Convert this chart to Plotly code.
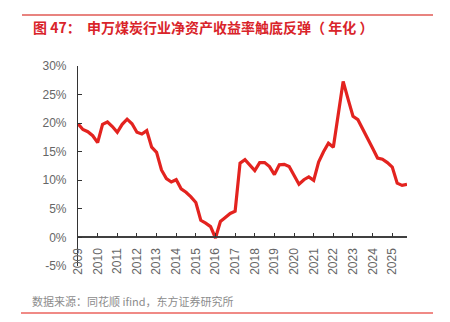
import plotly.graph_objects as go

# Quarterly categories 2009Q1 .. 2025Q4
quarters = [f"{y}Q{q}" for y in range(2009, 2026) for q in range(1, 5)]

# Annualised ROE (%) of SW coal industry
roe = [
    19.9, 18.9, 18.5, 17.8,   # 2009
    16.6, 19.8, 20.2, 19.4,   # 2010
    18.4, 19.8, 20.7, 19.9,   # 2011
    18.4, 18.1, 18.7, 15.8,   # 2012
    14.9, 11.8, 10.3, 9.7,    # 2013
    10.1, 8.5, 7.9, 7.1,      # 2014
    6.1, 3.0, 2.5, 1.9,       # 2015
    -0.1, 2.8, 3.5, 4.2,      # 2016
    4.6, 13.0, 13.6, 12.6,    # 2017
    11.7, 13.1, 13.1, 12.4,   # 2018
    11.0, 12.7, 12.8, 12.4,   # 2019
    10.8, 9.3, 10.1, 10.6,    # 2020
    10.0, 13.2, 15.0, 16.5,   # 2021
    15.8, 21.5, 27.3, 24.2,   # 2022
    21.2, 20.6, 19.0, 17.4,   # 2023
    15.6, 13.9, 13.7, 13.1,   # 2024
    12.3, 9.5, 9.1, 9.3,      # 2025
]

year_ticks = [str(y) for y in range(2009, 2026)]
ytick_vals = [-5, 0, 5, 10, 15, 20, 25, 30]
ytick_text = [f"{v}%" for v in ytick_vals]

title_text = "图 47：  申万煤炭行业净资产收益率触底反弹（ 年化 ）"
source_text = "数据来源：同花顺 ifind，东方证券研究所"

fig = go.Figure()
fig.add_trace(go.Scatter(
    x=quarters, y=roe, mode="lines",
    line=dict(color="#e3231f", width=3.2),
    hoverinfo="skip", showlegend=False,
))

tick_font = dict(family="Liberation Sans, Arial, sans-serif", size=12, color="#666666")

fig.update_layout(
    width=450, height=322,
    margin=dict(l=78, r=43, t=66, b=56),
    paper_bgcolor="white", plot_bgcolor="white",
    xaxis=dict(
        type="category",
        range=[0, len(quarters) - 1],
        tickmode="array",
        tickvals=[quarters[i] for i in range(0, len(quarters), 4)],
        ticktext=year_ticks,
        tickangle=-90,
        ticks="inside", ticklen=4, tickcolor="#333333", tickwidth=1.2,
        showline=True, linecolor="#404040", linewidth=1.8,
        showgrid=False, zeroline=False,
        anchor="free", position=5 / 35,
        tickfont=tick_font,
        ticklabelstandoff=5,
    ),
    yaxis=dict(
        range=[-5, 30],
        tickmode="array", tickvals=ytick_vals, ticktext=ytick_text,
        ticks="inside", ticklen=4, tickcolor="#333333", tickwidth=1.2,
        showline=True, linecolor="#333333", linewidth=1.2,
        showgrid=False, zeroline=False,
        tickfont=tick_font,
        ticklabelstandoff=8,
    ),
    shapes=[
        dict(type="line", xref="paper", yref="paper",
             x0=(22 - 78) / 329, x1=(433 - 78) / 329,
             y0=(266 - 15) / 200, y1=(266 - 15) / 200,
             line=dict(color="#e05a55", width=1.3)),
        dict(type="line", xref="paper", yref="paper",
             x0=(21 - 78) / 329, x1=(433 - 78) / 329,
             y0=(266 - 313) / 200, y1=(266 - 313) / 200,
             line=dict(color="#f08a86", width=1.8)),
    ],
    annotations=[
        dict(text=f"<b>{title_text}</b>", xref="paper", yref="paper",
             x=(31 - 78) / 329, y=(266 - 27) / 200,
             xanchor="left", yanchor="middle", showarrow=False,
             font=dict(family="Noto Sans CJK SC, sans-serif", size=14, color="#d9242a")),
        dict(text=source_text, xref="paper", yref="paper",
             x=(30 - 78) / 329, y=(266 - 301) / 200,
             xanchor="left", yanchor="middle", showarrow=False,
             font=dict(family="Noto Sans CJK SC, sans-serif", size=11, color="#8c8c8c")),
    ],
)

fig.write_html("out.html")
